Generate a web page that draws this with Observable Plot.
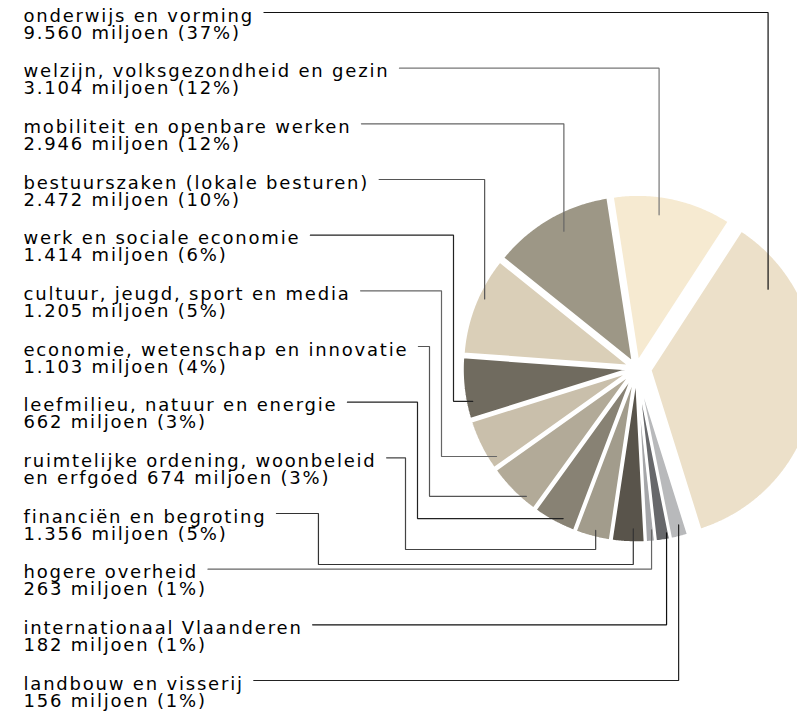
<!DOCTYPE html>
<html>
<head>
<meta charset="utf-8">
<script src="https://cdn.jsdelivr.net/npm/d3@7"></script>
<script src="https://cdn.jsdelivr.net/npm/@observablehq/plot@0.6"></script>
<style>
html, body { margin: 0; padding: 0; background: #fff; overflow: hidden; }
#chart svg { display: block; overflow: hidden; }
</style>
</head>
<body>
<div id="chart"></div>
<script>
// ---------- data ----------
const categories = [
  "onderwijs en vorming",
  "welzijn, volksgezondheid en gezin",
  "mobiliteit en openbare werken",
  "bestuurszaken (lokale besturen)",
  "werk en sociale economie",
  "cultuur, jeugd, sport en media",
  "economie, wetenschap en innovatie",
  "leefmilieu, natuur en energie",
  "ruimtelijke ordening, woonbeleid en erfgoed",
  "financiën en begroting",
  "hogere overheid",
  "internationaal Vlaanderen",
  "landbouw en visserij"
];
const budgetMillions = [9560, 3104, 2946, 2472, 1414, 1205, 1103, 662, 674, 1356, 263, 182, 156];
const percentLabels  = [37, 12, 12, 10, 6, 5, 4, 3, 3, 5, 1, 1, 1];
// share of the pie as drawn in the reference (percent)
const sliceShares    = [36.0, 11.6, 11.8, 9.6, 6.0, 5.0, 5.2, 4.2, 3.4, 3.2, 0.9, 1.4, 1.7];

// ---------- styles ----------
const sliceColors  = ["#ece0c9", "#f6ead1", "#9d9786", "#dacfb8", "#706b5f", "#c9bfab", "#b2aa98",
                      "#888274", "#a29c8c", "#59544b", "#a5a6a9", "#67686b", "#b8b9bb"];
const leaderColors = ["#111", "#777", "#666", "#555", "#222", "#666", "#555",
                      "#222", "#444", "#333", "#666", "#111", "#222"];
// where each leader touches its slice: fraction along the slice (from its first edge), radius fraction
const anchorFrac = [0.80, 0.59, 0.45, 0.41, 0.72, 0.82, 0.74, 0.65, 0.54, 0.64, 0.72, 0.82, 0.62];
const anchorRad  = [0.92, 0.93, 0.93, 1.00, 1.00, 0.99, 1.01, 1.00, 1.00, 0.96, 0.97, 1.00, 0.97];

// ---------- layout ----------
const W = 797, H = 712;
const cx = 636, cy = 368, R = 167;
const startAngle = 162.6;            // degrees clockwise from north; slices run counter-clockwise
const FONT = "'DejaVu Sans', Verdana, sans-serif", FS = 18, LS = 1.8, LINE = 17;
const textX = 23;

const rad = d => d * Math.PI / 180;
const polar = (a, r, ox = cx, oy = cy) => [ox + r * Math.sin(rad(a)), oy - r * Math.cos(rad(a))];

const nl = d3.formatLocale({decimal: ",", thousands: ".", grouping: [3], currency: ["€", ""]});
const fmt = nl.format(",d");

// slice angles
let acc = startAngle;
const slices = categories.map((name, i) => {
  const a0 = acc, a1 = acc - sliceShares[i] * 3.6;
  acc = a1;
  return {name, i, a0, a1, mid: (a0 + a1) / 2, color: sliceColors[i], explode: i === 0 ? 14 : 7};
});

// slice polygons
const slicePts = [];
for (const s of slices) {
  const [ax, ay] = polar(s.mid, s.explode);
  slicePts.push({name: s.name, color: s.color, x: ax, y: ay});
  const n = Math.ceil((s.a0 - s.a1) / 0.5);
  for (let k = 0; k <= n; k++) {
    const a = s.a0 - (s.a0 - s.a1) * k / n;
    const [x, y] = polar(a, R, ax, ay);
    slicePts.push({name: s.name, color: s.color, x, y});
  }
  slicePts.push({name: s.name, color: s.color, x: ax, y: ay});
}

// label text
const labelLines = categories.map((name, i) => {
  const val = `${fmt(budgetMillions[i])} miljoen (${percentLabels[i]}%)`;
  if (name.length > 36) {
    const cut = name.lastIndexOf(" ", 33);
    return [name.slice(0, cut), name.slice(cut + 1) + " " + val];
  }
  return [name, val];
});

// measure first-line widths
function measure(texts) {
  const svg = d3.select("body").append("svg").attr("width", 10).attr("height", 10)
    .style("position", "absolute").style("left", "-5000px");
  const w = texts.map(t => svg.append("text").attr("font-family", FONT).attr("font-size", FS)
    .style("letter-spacing", LS + "px").text(t).node().getComputedTextLength());
  svg.remove();
  return w;
}
const widths = measure(labelLines.map(l => l[0]));

const leaderY = d3.scalePoint().domain(categories).range([12, 680]);

const labels = categories.map((name, i) => ({
  name, x: textX, y: leaderY(name) + 26, text: labelLines[i].join("\n")
}));

// leader routes
const leaderPts = [];
slices.forEach((s, i) => {
  const ly = leaderY(s.name);
  const xs = textX + widths[i] + 10;
  const aa = s.a0 - (s.a0 - s.a1) * anchorFrac[i];
  const [ax, ay] = polar(aa, R * anchorRad[i]);
  let pts;
  if (i <= 3 || i >= 10) {
    pts = [[xs, ly], [ax, ly], [ax, ay]];
  } else if (i <= 7) {
    const ex = cx - R - 16 - 12 * (i - 4);
    pts = [[xs, ly], [ex, ly], [ex, ay], [ax, ay]];
  } else {
    const ex = i === 8 ? cx - R - 16 - 48 : xs + 42;
    const by = cy + R + 14 + (i === 9 ? 15 : 0);
    pts = [[xs, ly], [ex, ly], [ex, by], [ax, by], [ax, ay]];
  }
  for (const [x, y] of pts) leaderPts.push({name: s.name, color: leaderColors[i], x, y});
});

const chart = Plot.plot({
  width: W, height: H, margin: 0,
  x: {type: "linear", domain: [0, W], range: [0, W], axis: null},
  y: {type: "linear", domain: [0, H], range: [0, H], axis: null},
  style: {letterSpacing: LS + "px", overflow: "hidden", background: "#fff"},
  marks: [
    Plot.line(slicePts, {x: "x", y: "y", z: "name", fill: "color", stroke: "white",
      strokeWidth: 2.5, strokeLinejoin: "miter", curve: "linear"}),
    Plot.line(leaderPts, {x: "x", y: "y", z: "name", stroke: "color", strokeWidth: 1.2,
      strokeLinejoin: "miter", curve: "linear"}),
    Plot.text(labels, {x: "x", y: "y", text: "text", textAnchor: "start", lineAnchor: "bottom",
      lineHeight: LINE / FS, fontSize: FS, fontFamily: FONT, fill: "#000"})
  ]
});
document.getElementById("chart").appendChild(chart);
</script>
</body>
</html>
